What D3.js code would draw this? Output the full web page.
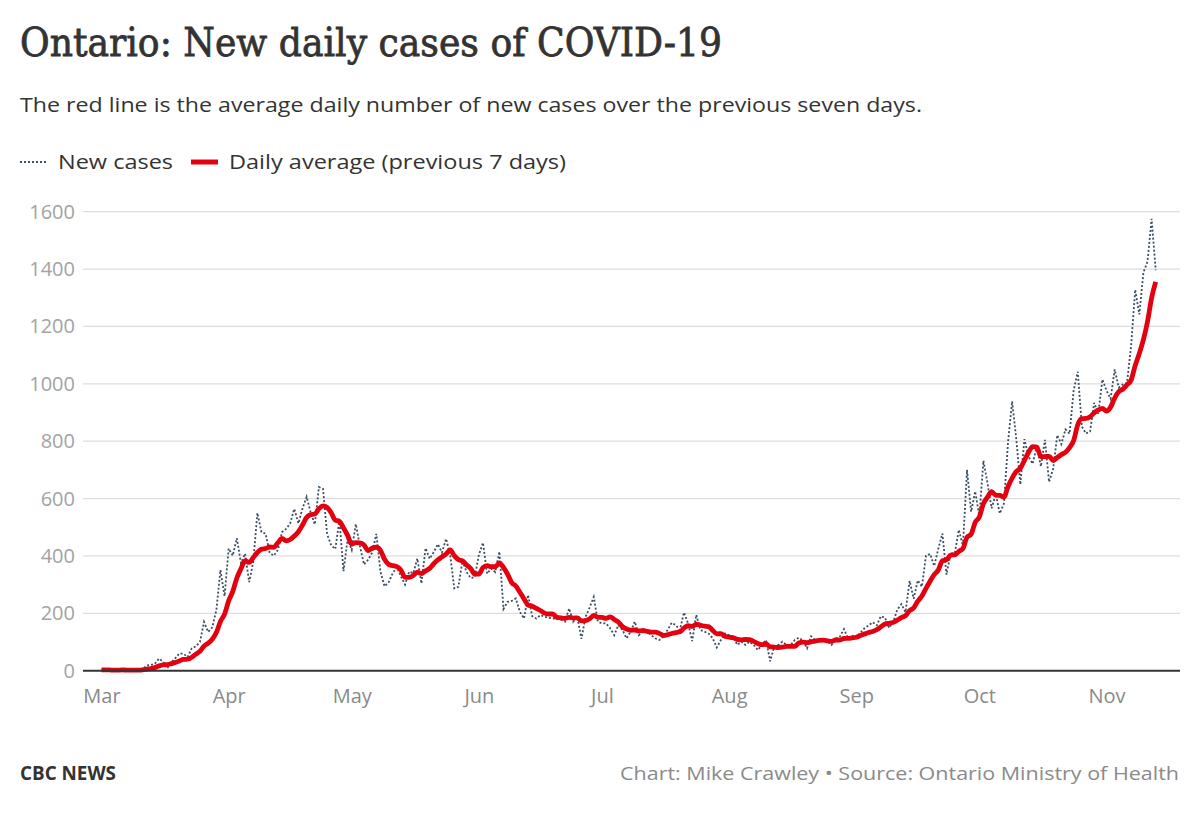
<!DOCTYPE html>
<html>
<head>
<meta charset="utf-8">
<script src="https://cdn.jsdelivr.net/npm/d3@7"></script>
<style>
  html, body { margin: 0; padding: 0; background: #fff; }
  svg { display: block; }
</style>
</head>
<body>
<svg id="chart" width="1200" height="813"></svg>
<script>
// ---------------- DATA ----------------
const startDate = "2020-03-01";
// Ontario new daily cases, Mar 1 – Nov 13, 2020
const newCasesMar = [3, 3, 2, 0, 2, 6, 0, 1, 5, 2, 5, 18, 20, 24, 42, 32, 8, 29, 44, 60, 59, 48, 78, 85, 100, 170, 135, 151, 211, 351, 260];
const newCasesApr = [426, 401, 462, 375, 408, 309, 379, 550, 483, 478, 411, 401, 421, 483, 494, 514, 564, 514, 565, 606, 551, 510, 640, 634, 476, 437, 424, 525, 347, 459];
const newCasesMay = [421, 511, 434, 370, 387, 412, 477, 346, 294, 308, 340, 361, 329, 300, 345, 340, 391, 304, 427, 390, 413, 441, 412, 460, 404, 287, 292, 383, 344, 323, 326];
const newCasesJun = [404, 446, 338, 356, 344, 415, 215, 240, 243, 252, 205, 182, 264, 190, 182, 194, 188, 184, 182, 182, 178, 171, 217, 171, 188, 111, 188, 220, 257, 171];
const newCasesJul = [165, 165, 148, 124, 159, 142, 113, 136, 171, 124, 136, 136, 124, 113, 107, 119, 142, 167, 159, 142, 203, 165, 103, 195, 142, 136, 130, 113, 81, 107, 130];
const newCasesAug = [124, 119, 90, 101, 90, 101, 90, 72, 90, 107, 33, 84, 90, 101, 90, 90, 107, 115, 105, 78, 120, 107, 110, 109, 101, 90, 112, 119, 145, 113, 122];
const newCasesSep = [114, 132, 148, 158, 169, 158, 190, 185, 149, 170, 213, 232, 204, 313, 251, 315, 293, 401, 407, 365, 425, 478, 335, 409, 409, 491, 435, 700, 554, 625];
const newCasesOct = [538, 732, 653, 566, 615, 548, 583, 797, 939, 809, 649, 807, 746, 721, 783, 712, 805, 658, 704, 821, 790, 841, 826, 978, 1042, 851, 827, 834, 934, 896, 1015];
const newCasesNov = [977, 948, 1050, 987, 998, 1003, 1132, 1328, 1242, 1388, 1426, 1575, 1396];

const monthTicks = ["2020-03-01", "2020-04-01", "2020-05-01", "2020-06-01", "2020-07-01", "2020-08-01", "2020-09-01", "2020-10-01", "2020-11-01"];
const monthLabels = ["Mar", "Apr", "May", "Jun", "Jul", "Aug", "Sep", "Oct", "Nov"];
const yTicks = [0, 200, 400, 600, 800, 1000, 1200, 1400, 1600];

const titleText = "Ontario: New daily cases of COVID-19";
const subtitleText = "The red line is the average daily number of new cases over the previous seven days.";
const legendLabels = ["New cases", "Daily average (previous 7 days)"];
const brandText = "CBC NEWS";
const creditText = "Chart: Mike Crawley \u2022 Source: Ontario Ministry of Health";

// ---------------- BUILD ----------------
const newCases = [].concat(newCasesMar, newCasesApr, newCasesMay, newCasesJun, newCasesJul,
                           newCasesAug, newCasesSep, newCasesOct, newCasesNov);
const parse = d3.utcParse("%Y-%m-%d");
const t0 = parse(startDate);
const data = newCases.map((v, i) => {
  const lo = Math.max(0, i - 6);
  const avg = d3.mean(newCases.slice(lo, i + 1));
  return { date: d3.utcDay.offset(t0, i), value: v, avg: avg };
});

const svg = d3.select("#chart");
const FONT = "'Open Sans', 'Noto Sans', sans-serif";

const gridLeft = 83, gridRight = 1180;
const x = d3.scaleUtc()
  .domain([t0, data[data.length - 1].date])
  .range([101.5, 101.5 + 4.102 * (data.length - 1)]);
const y = d3.scaleLinear().domain([0, 1600]).range([670.7, 211.7]);

// Title
svg.append("text")
  .attr("x", 20).attr("y", 56)
  .attr("font-family", "'DejaVu Serif', 'Liberation Serif', serif")
  .attr("font-size", 40)
  .attr("fill", "#333")
  .attr("stroke", "#333")
  .attr("stroke-width", 0.8)
  .attr("textLength", 702)
  .attr("lengthAdjust", "spacingAndGlyphs")
  .text(titleText);

// Subtitle
svg.append("text")
  .attr("x", 20).attr("y", 112)
  .attr("font-family", FONT)
  .attr("font-size", 20)
  .attr("fill", "#333")
  .attr("textLength", 902)
  .attr("lengthAdjust", "spacingAndGlyphs")
  .text(subtitleText);

// Legend
const lg = svg.append("g");
lg.append("line")
  .attr("x1", 20).attr("x2", 47).attr("y1", 162).attr("y2", 162)
  .attr("stroke", "#3b4f63").attr("stroke-width", 1.8).attr("stroke-dasharray", "2,2");
lg.append("text")
  .attr("x", 58).attr("y", 169)
  .attr("font-family", FONT).attr("font-size", 20).attr("fill", "#333")
  .attr("textLength", 115).attr("lengthAdjust", "spacingAndGlyphs")
  .text(legendLabels[0]);
lg.append("line")
  .attr("x1", 191).attr("x2", 218).attr("y1", 162).attr("y2", 162)
  .attr("stroke", "#e3000f").attr("stroke-width", 5);
lg.append("text")
  .attr("x", 229).attr("y", 169)
  .attr("font-family", FONT).attr("font-size", 20).attr("fill", "#333")
  .attr("textLength", 337).attr("lengthAdjust", "spacingAndGlyphs")
  .text(legendLabels[1]);

// Gridlines + y labels
const gy = svg.append("g");
gy.selectAll("line.grid")
  .data(yTicks.filter(d => d > 0))
  .join("line")
  .attr("class", "grid")
  .attr("x1", gridLeft).attr("x2", gridRight)
  .attr("y1", d => y(d)).attr("y2", d => y(d))
  .attr("stroke", "#dedede").attr("stroke-width", 1.3);
gy.selectAll("text")
  .data(yTicks)
  .join("text")
  .attr("x", 75).attr("y", d => y(d))
  .attr("dy", "0.35em")
  .attr("text-anchor", "end")
  .attr("font-family", FONT).attr("font-size", 20)
  .attr("fill", "#a3a3a3")
  .text(d => d);

// X axis (labels via d3 axis)
const xAxis = d3.axisBottom(x)
  .tickValues(monthTicks.map(parse))
  .tickFormat((d, i) => monthLabels[i])
  .tickSize(0)
  .tickPadding(18);
const gx = svg.append("g")
  .attr("transform", `translate(0,${y(0)})`)
  .call(xAxis);
gx.select(".domain").remove();
gx.selectAll("text")
  .attr("font-family", FONT).attr("font-size", 20).attr("fill", "#8a8a8a");

// Lines
const lineDaily = d3.line().x(d => x(d.date)).y(d => y(d.value));
const lineAvg = d3.line().x(d => x(d.date)).y(d => y(d.avg)).curve(d3.curveMonotoneX);

svg.append("path")
  .datum(data)
  .attr("d", lineDaily)
  .attr("fill", "none")
  .attr("stroke", "#3b4f63")
  .attr("stroke-width", 1.8)
  .attr("stroke-dasharray", "2,2");

svg.append("path")
  .datum(data)
  .attr("d", lineAvg)
  .attr("fill", "none")
  .attr("stroke", "#e3000f")
  .attr("stroke-width", 4.8)
  .attr("stroke-linejoin", "round");

// zero baseline
svg.append("line")
  .attr("x1", gridLeft).attr("x2", gridRight)
  .attr("y1", y(0)).attr("y2", y(0))
  .attr("stroke", "#333").attr("stroke-width", 2);

// Footer
svg.append("text")
  .attr("x", 20).attr("y", 780)
  .attr("font-family", FONT).attr("font-weight", 700)
  .attr("font-size", 20).attr("fill", "#333")
  .attr("textLength", 96).attr("lengthAdjust", "spacingAndGlyphs")
  .text(brandText);
svg.append("text")
  .attr("x", 1179).attr("y", 780)
  .attr("text-anchor", "end")
  .attr("font-family", FONT)
  .attr("font-size", 19).attr("fill", "#8a8a8a")
  .attr("textLength", 559).attr("lengthAdjust", "spacingAndGlyphs")
  .text(creditText);
</script>
</body>
</html>
